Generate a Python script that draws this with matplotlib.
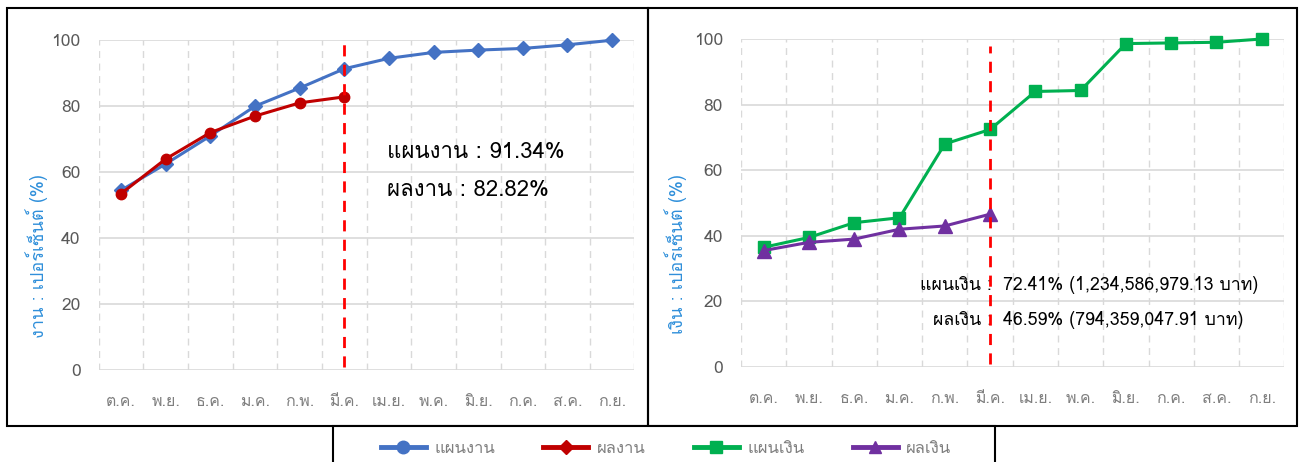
import matplotlib
matplotlib.use("Agg")
import matplotlib.pyplot as plt
from matplotlib import font_manager
from matplotlib.ft2font import FT2Font
from matplotlib.lines import Line2D
from matplotlib.patches import Rectangle

# pick a font that has Thai glyphs
thai_font = None
for f in font_manager.fontManager.ttflist:
    try:
        if 0x0E01 in FT2Font(f.fname).get_charmap():
            thai_font = f.name
            break
    except Exception:
        pass
plt.rcParams['font.family'] = [thai_font, 'DejaVu Sans'] if thai_font else ['DejaVu Sans']

# Data
months = ['ต.ค.', 'พ.ย.', 'ธ.ค.', 'ม.ค.', 'ก.พ.', 'มี.ค.', 'เม.ย.', 'พ.ค.', 'มิ.ย.', 'ก.ค.', 'ส.ค.', 'ก.ย.']
work_plan = [54.5, 62.5, 71.0, 80.0, 85.5, 91.34, 94.5, 96.3, 97.0, 97.5, 98.6, 100.0]
work_result = [53.5, 64.0, 72.0, 77.0, 81.0, 82.82]
money_plan = [36.5, 39.5, 44.0, 45.5, 68.0, 72.41, 84.0, 84.3, 98.6, 98.8, 99.0, 100.0]
money_result = [35.5, 38.0, 39.0, 42.0, 43.0, 46.59]
current_month = 5

blue = '#4472C4'
red = '#C00000'
green = '#00B050'
purple = '#7030A0'
grey_txt = '#595959'
label_blue = '#2F8FDA'

fig = plt.figure(figsize=(13, 4.62), dpi=100)


def style_axes(ax, ylabel, label_x):
    x = range(len(months))
    ax.set_xlim(-0.5, len(months) - 0.5)
    ax.set_ylim(0, 100)
    ax.set_yticks(range(0, 101, 20))
    ax.set_xticks(list(x))
    ax.set_xticklabels(months)
    ax.set_xticks([i + 0.5 for i in range(-1, len(months))], minor=True)
    ax.grid(axis='y', which='major', color='#D9D9D9', linewidth=1.2)
    ax.grid(axis='x', which='minor', color='#D9D9D9', linewidth=1.0, linestyle=(0, (5, 4)))
    ax.tick_params(axis='both', which='both', length=0, colors=grey_txt)
    ax.tick_params(axis='x', pad=17, labelsize=11.5, labelcolor='#7F7F7F')
    ax.tick_params(axis='y', pad=13, labelsize=12.5)
    for s in ax.spines.values():
        s.set_visible(False)
    ax.set_ylabel(ylabel, color=label_blue, fontsize=13)
    ax.yaxis.set_label_coords(label_x, 0.345)
    ax.set_axisbelow(True)


# left chart: work
ax1 = fig.add_axes([0.076, 0.199, 0.412, 0.714])
style_axes(ax1, 'งาน : เปอร์เซ็นต์ (%)', -0.095)
ax1.plot(range(len(work_plan)), work_plan, color=blue, lw=2.2, marker='D', ms=7.5, zorder=3, clip_on=False)
ax1.plot(range(len(work_result)), work_result, color=red, lw=2.2, marker='o', ms=7.5, zorder=4, clip_on=False)
ax1.vlines(current_month, 1, 99, colors='#FF0000', linestyles=(0, (4, 3)), lw=2, zorder=5)
ax1.text(5.95, 66, 'แผนงาน : %.2f%%' % work_plan[current_month], fontsize=16, va='center')
ax1.text(5.95, 54.5, 'ผลงาน : %.2f%%' % work_result[current_month], fontsize=16, va='center')

# right chart: money
ax2 = fig.add_axes([0.570, 0.2056, 0.418, 0.710])
style_axes(ax2, 'เงิน : เปอร์เซ็นต์ (%)', -0.10)
ax2.plot(range(len(money_plan)), money_plan, color=green, lw=2.2, marker='s', ms=8.5, zorder=3, clip_on=False)
ax2.plot(range(len(money_result)), money_result, color=purple, lw=2.2, marker='^', ms=9.5, zorder=4, clip_on=False)
ax2.vlines(current_month, 1, 98, colors='#FF0000', linestyles=(0, (4, 3)), lw=2, zorder=5)
ax2.text(5.04, 25, 'แผนเงิน :', fontsize=12.8, va='center', ha='right')
ax2.text(5.28, 25, '%.2f%% (1,234,586,979.13 บาท)' % money_plan[current_month], fontsize=12.8, va='center')
ax2.text(5.04, 14.3, 'ผลเงิน :', fontsize=12.8, va='center', ha='right')
ax2.text(5.28, 14.3, '%.2f%% (794,359,047.91 บาท)' % money_result[current_month], fontsize=12.8, va='center')

# panel borders
W, H = 1300, 462
def fig_rect(x0, y0, x1, y1):
    return Rectangle((x0 / W, 1 - y1 / H), (x1 - x0) / W, (y1 - y0) / H,
                     transform=fig.transFigure, fill=False, edgecolor='black', lw=1.5)

fig.patches.append(fig_rect(7, 8, 648, 426))
fig.patches.append(fig_rect(648, 8, 1297, 426))
fig.patches.append(Rectangle((333 / W, -0.05), (995 - 333) / W, 1 - 426 / H + 0.05,
                             transform=fig.transFigure, facecolor='white', edgecolor='black', lw=1.5))

handles = [
    Line2D([], [], color=blue, lw=3.5, marker='o', ms=9, label='แผนงาน'),
    Line2D([], [], color=red, lw=3.5, marker='D', ms=7, label='ผลงาน'),
    Line2D([], [], color=green, lw=3.5, marker='s', ms=8, label='แผนเงิน'),
    Line2D([], [], color=purple, lw=3.5, marker='^', ms=9, label='ผลเงิน'),
]
leg = fig.legend(handles=handles, loc='center', bbox_to_anchor=(666 / W, 1 - 449 / H),
                 ncol=4, frameon=False, fontsize=12, columnspacing=2.9, handlelength=2.7,
                 handletextpad=0.5)
for t in leg.get_texts():
    t.set_color('#7F7F7F')

fig.savefig('out.png', dpi=100)
